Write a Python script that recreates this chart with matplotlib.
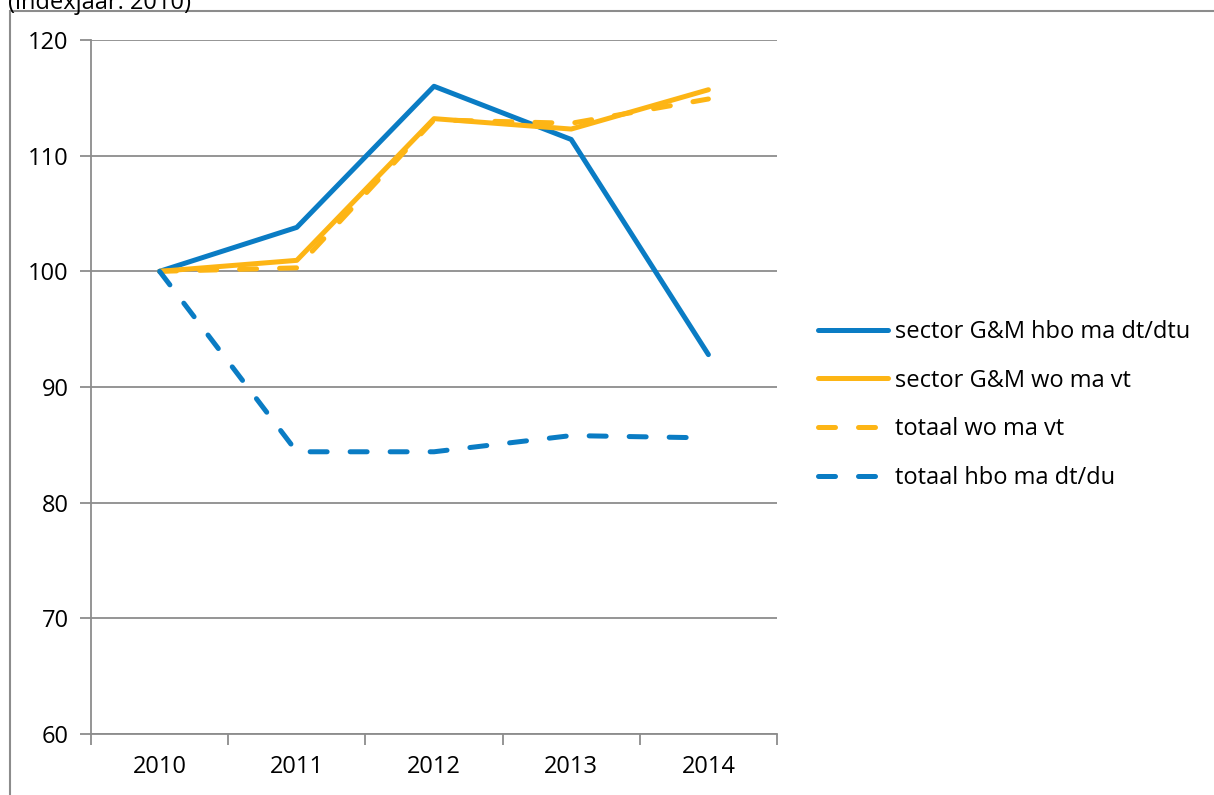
import matplotlib.pyplot as plt
from matplotlib.patches import Rectangle

plt.rcParams['font.family'] = ['Open Sans', 'DejaVu Sans']

years = ['2010', '2011', '2012', '2013', '2014']
sector_hbo = [100, 103.8, 116.0, 111.4, 92.8]
sector_wo = [100, 100.95, 113.2, 112.3, 115.7]
totaal_wo = [100, 100.3, 113.1, 112.8, 114.9]
totaal_hbo = [100, 84.4, 84.4, 85.8, 85.6]

blue = '#0A7CC4'
orange = '#FDB515'
grey = '#8C8C8C'
fs = 17

fig = plt.figure(figsize=(12.14, 7.95), dpi=100)
ax = fig.add_axes([91/1214, 1-734/795, (777-91)/1214, (734-40)/795])

x = list(range(len(years)))
lw = 3.6
dash = (3.4, 4.6)
ax.plot(x, sector_hbo, color=blue, lw=lw, solid_capstyle='round', label='sector G&M hbo ma dt/dtu')
ax.plot(x, sector_wo, color=orange, lw=lw, solid_capstyle='round', label='sector G&M wo ma vt')
ax.plot(x, totaal_wo, color=orange, lw=lw, dashes=dash, dash_capstyle='round', label='totaal wo ma vt')
ax.plot(x, totaal_hbo, color=blue, lw=lw, dashes=dash, dash_capstyle='round', label='totaal hbo ma dt/du')

ax.set_xlim(-0.5, 4.5)
ax.set_ylim(60, 120)
ax.set_yticks(range(60, 121, 10))
ax.yaxis.grid(True, color=grey, lw=1.3)
ax.set_axisbelow(True)

ax.set_xticks([i - 0.5 for i in range(len(years) + 1)])
ax.set_xticklabels([])
ax.set_xticks(x, minor=True)
ax.set_xticklabels(years, minor=True)
ax.tick_params(axis='x', which='minor', length=0, pad=15, labelsize=fs)
ax.tick_params(axis='x', which='major', length=8, width=1.3, color=grey, direction='out')
ax.tick_params(axis='y', length=8, width=1.3, color=grey, pad=8, labelsize=fs)

for s in ['top', 'right']:
    ax.spines[s].set_visible(False)
for s in ['left', 'bottom']:
    ax.spines[s].set_color(grey)
    ax.spines[s].set_linewidth(1.3)

ax.legend(loc='center left', bbox_to_anchor=(818/1214, 1-405/795), bbox_transform=fig.transFigure,
          frameon=False, fontsize=fs, handlelength=2.97, handletextpad=0.3, labelspacing=1.04,
          borderpad=0, borderaxespad=0)

fig.patches.append(Rectangle((10/1214, -0.1), 1.2, 1-11/795+0.1, transform=fig.transFigure,
                             fill=False, edgecolor=grey, lw=1.5))
fig.text(8/1214, 1-9/795, '(indexjaar: 2010)', fontsize=fs, va='baseline', ha='left')

fig.savefig('out.png', dpi=100)
